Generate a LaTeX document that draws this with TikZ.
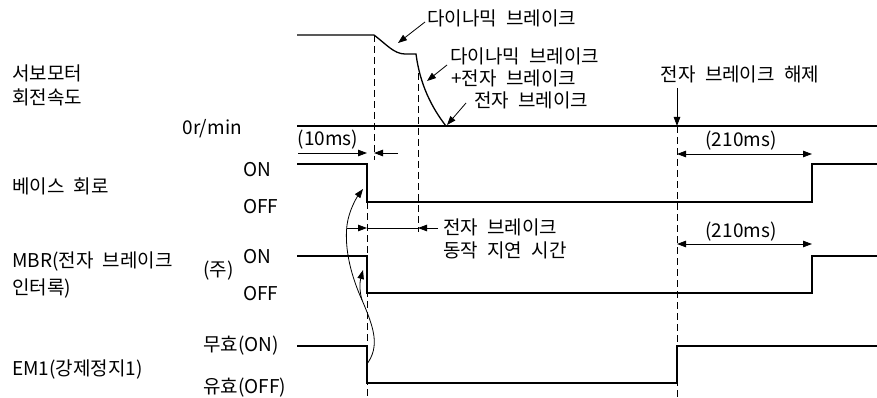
\documentclass[tikz,border=0pt]{standalone}
\usepackage{fontspec}
\setmainfont{Noto Sans CJK KR}[WordSpace=2.2]
\usetikzlibrary{arrows.meta}
\begin{document}
\begin{tikzpicture}[x=1pt,y=-1pt,
  sig/.style={line width=1.3pt},
  guide/.style={line width=0.9pt,dash pattern=on 7pt off 4pt},
  dim/.style={line width=0.8pt},
  tip/.style={-{Triangle[length=9pt,width=6.5pt]}},
  tips/.style={{Triangle[length=9pt,width=6.5pt]}-{Triangle[length=9pt,width=6.5pt]}},
  lbl/.style={font=\fontsize{19}{22}\selectfont, inner sep=0pt},
]
\useasboundingbox (0,0) rectangle (877,398);

% left labels
\node[lbl,anchor=west] (t1) at (12,73) {서보모터};
\node[lbl,anchor=west] (t2) at (12,97) {회전속도};
\node[lbl,anchor=east] (t3) at (242,129) {0r/min};
\node[lbl,anchor=west] (t4) at (12,186) {베이스 회로};
\node[lbl,anchor=west] (t5) at (243,170) {ON};
\node[lbl,anchor=west] (t6) at (243,207) {OFF};
\node[lbl,anchor=west] (t7) at (12,262) {MBR(전자 브레이크};
\node[lbl,anchor=west] (t8) at (12,289) {인터록)};
\node[lbl,anchor=west] (t9) at (203,271) {(주)};
\node[lbl,anchor=west] (t10) at (243,257) {ON};
\node[lbl,anchor=west] (t11) at (243,294) {OFF};
\node[lbl,anchor=west] (t12) at (203,346) {무효(ON)};
\node[lbl,anchor=west] (t13) at (12,370) {EM1(강제정지1)};
\node[lbl,anchor=west] (t14) at (203,388) {유효(OFF)};

% guide (dashed) lines
\coordinate (g1a) at (374,35);  \coordinate (g1b) at (374,160);
\coordinate (g2a) at (367,202); \coordinate (g2b) at (367,396);
\coordinate (g3a) at (418,73);  \coordinate (g3b) at (418,232);
\coordinate (g4a) at (677,126); \coordinate (g4b) at (677,398);
\draw[guide] (g1a) -- (g1b);
\draw[guide] (g2a) -- (g2b);
\draw[guide] (g3a) -- (g3b);
\draw[guide] (g4a) -- (g4b);

% signals
\draw[sig] (297,35) -- (374,35) .. controls (386,44) and (394,54) .. (405,54) -- (416,54)
  .. controls (420,85) and (432,108) .. (446,126);
\draw[sig] (297,126) -- (877,126);
\draw[sig] (297,164) -- (367,164) -- (367,202) -- (812,202) -- (812,164) -- (877,164);
\draw[sig] (297,256) -- (367,256) -- (367,293) -- (812,293) -- (812,256) -- (877,256);
\draw[sig] (297,346) -- (367,346) -- (367,383) -- (677,383) -- (677,346) -- (877,346);

% 10ms
\coordinate (d1a) at (298,153); \coordinate (d1b) at (367,153);
\coordinate (d1c) at (398,153); \coordinate (d1d) at (374,153);
\draw[dim,tip] (d1a) -- (d1b);
\draw[dim,tip] (d1c) -- (d1d);
\node[lbl] (t15) at (328,140) {(10ms)};

% brake delay
\coordinate (d2a) at (347,228); \coordinate (d2b) at (367,228);
\coordinate (d2c) at (438,228); \coordinate (d2d) at (418,228);
\draw[dim,tip] (d2a) -- (d2b);
\draw[dim] (d2b) -- (d2d);
\draw[dim,tip] (d2c) -- (d2d);
\node[lbl,anchor=west] (t16) at (443,227) {전자 브레이크};
\node[lbl,anchor=west] (t17) at (443,250) {동작 지연 시간};

% 210ms
\coordinate (d3a) at (677,154); \coordinate (d3b) at (812,154);
\draw[dim,tips] (d3a) -- (d3b);
\node[lbl] (t18) at (741,141) {(210ms)};
\coordinate (d4a) at (677,244); \coordinate (d4b) at (812,244);
\draw[dim,tips] (d4a) -- (d4b);
\node[lbl] (t19) at (741,232) {(210ms)};

% annotations
\node[lbl,anchor=west] (a1) at (427,18) {다이나믹 브레이크};
\coordinate (a1s) at (425,22); \coordinate (a1e) at (398,43);
\draw[dim,tip] (a1s) -- (a1e);
\node[lbl,anchor=west] (a2) at (450,56) {다이나믹 브레이크};
\node[lbl,anchor=west] (a3) at (451,78) {+전자 브레이크};
\coordinate (a2s) at (447,65); \coordinate (a2e) at (427,81);
\draw[dim,tip] (a2s) -- (a2e);
\node[lbl,anchor=west] (a4) at (474,100) {전자 브레이크};
\coordinate (a4s) at (466,103); \coordinate (a4e) at (447,125);
\draw[dim,tip] (a4s) -- (a4e);
\node[lbl] (a5) at (740,74) {전자 브레이크 해제};
\coordinate (a5s) at (677,88); \coordinate (a5e) at (677,126);
\draw[dim,tip] (a5s) -- (a5e);

% causal curves
\coordinate (c0) at (367,364);
\coordinate (c1) at (362,300);
\coordinate (c2) at (347,225);
\coordinate (cbase) at (363,189);
\coordinate (cmbr) at (363,270);
\draw[dim,tip] (c0) .. controls (380,346) and (374,328) .. (c1)
  .. controls (352,278) and (344,250) .. (c2)
  .. controls (349,210) and (357,197) .. (cbase);
\draw[dim,tip] (c1) .. controls (359,290) and (360,281) .. (cmbr);
\end{tikzpicture}
\end{document}
